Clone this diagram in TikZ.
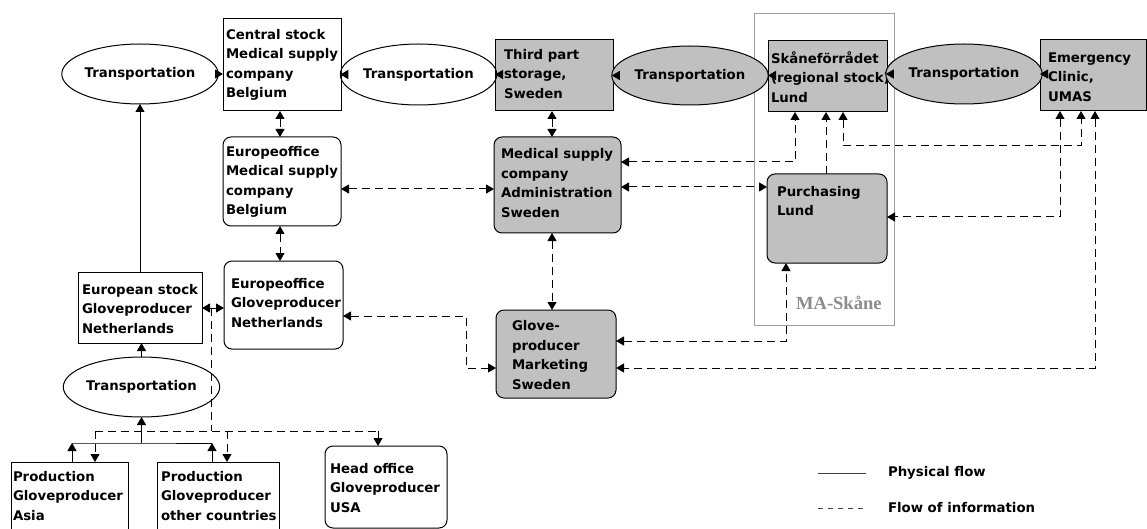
\documentclass[tikz,border=0pt]{standalone}
\usepackage{fontspec}
\setsansfont{DejaVu Sans}
\newfontfamily\maserif{Liberation Serif}
\usetikzlibrary{shapes.geometric,arrows.meta,calc}
\definecolor{boxgrey}{HTML}{C0C0C0}
\definecolor{frgrey}{HTML}{A0A0A0}
\definecolor{labgrey}{HTML}{8C8C8C}
\newcommand\boxfont{\sffamily\bfseries\fontsize{13.3}{19.5}\selectfont}
\tikzset{
  sqbox/.style={draw=black, line width=1pt, inner sep=0pt, outer sep=0pt, anchor=north west},
  rbox/.style={sqbox, rounded corners=8pt},
  filled/.style={fill=boxgrey},
  ell/.style={ellipse, draw=black, line width=1pt, inner sep=0pt, outer sep=0pt, font=\boxfont},
  lab/.style={inner sep=0pt, outer sep=0pt, anchor=west, align=left, font=\boxfont},
  tip/.tip={Triangle[length=8pt,width=9pt]},
  phys/.style={line width=1pt, -tip},
  info/.style={line width=1pt, dash pattern=on 8pt off 5pt, tip-tip},
  infoone/.style={line width=1pt, dash pattern=on 8pt off 5pt, -tip},
  infonone/.style={line width=1pt, dash pattern=on 8pt off 5pt},
}
\begin{document}
\begin{tikzpicture}[x=1pt,y=-1pt]
\clip (0,0) rectangle (1147,529);
\fill[white] (0,0) rectangle (1147,529);

% MA-Skane frame
\node[draw=frgrey, line width=1pt, inner sep=0pt, outer sep=0pt, anchor=north west,
      minimum width=140pt, minimum height=311pt] (ma) at (754,14) {};
\node[inner sep=0pt, anchor=west, text=labgrey, font=\maserif\bfseries\fontsize{18.5}{19}\selectfont] (malab) at (796,303) {MA-Skåne};

% boxes
\node[sqbox, minimum width=118pt, minimum height=92pt] (cs) at (223,19) {};
\node[rbox, minimum width=118pt, minimum height=89pt] (eom) at (223,137) {};
\node[sqbox, filled, minimum width=118pt, minimum height=71pt] (tp) at (495,40) {};
\node[rbox, filled, minimum width=127pt, minimum height=96pt] (adm) at (494,137) {};
\node[sqbox, filled, minimum width=119pt, minimum height=71pt] (sk) at (768,41) {};
\node[sqbox, filled, minimum width=106pt, minimum height=71pt] (em) at (1040,40) {};
\node[rbox, filled, minimum width=120pt, minimum height=89pt] (pu) at (767,174) {};
\node[sqbox, minimum width=124pt, minimum height=71pt] (es) at (78,272) {};
\node[rbox, minimum width=119pt, minimum height=88pt] (eog) at (224,261) {};
\node[rbox, filled, minimum width=120pt, minimum height=88pt] (gm) at (496,310) {};
\node[sqbox, minimum width=117pt, minimum height=90pt] (asia) at (11,462) {};
\node[sqbox, minimum width=122pt, minimum height=90pt] (oth) at (157,462) {};
\node[rbox, minimum width=122pt, minimum height=82pt] (ho) at (325,446) {};

% box texts
\node[lab] (cst) at (226,65) {Central stock\\Medical supply\\company\\Belgium};
\node[lab] (eomt) at (226,182) {Europeoffice\\Medical supply\\company\\Belgium};
\node[lab] (tpt) at (504,74) {Third part\\storage,\\Sweden};
\node[lab] (admt) at (501,183) {Medical supply\\company\\Administration\\Sweden};
\node[lab] (skt) at (771,77) {Skåneförrådet\\(regional stock)\\Lund};
\node[lab] (emt) at (1048,77) {Emergency\\Clinic,\\UMAS};
\node[lab] (put) at (777,201) {Purchasing\\Lund};
\node[lab] (est) at (82,309) {European stock\\Gloveproducer\\Netherlands};
\node[lab] (eogt) at (231,303) {Europeoffice\\Gloveproducer\\Netherlands};
\node[lab] (gmt) at (512,355) {Glove-\\producer\\Marketing\\Sweden};
\node[lab] (asiat) at (13,496) {Production\\Gloveproducer\\Asia};
\node[lab] (otht) at (161,496) {Production\\Gloveproducer\\other countries};
\node[lab] (hot) at (330,488) {Head office\\Gloveproducer\\USA};

% ellipses
\node[ell, minimum width=116pt, minimum height=60pt] (t1) at (140,74) {Transportation};
\node[ell, minimum width=115pt, minimum height=61pt] (t2) at (418.5,74.5) {Transportation};
\node[ell, filled, minimum width=116pt, minimum height=59pt] (t4) at (690,75.5) {Transportation};
\node[ell, filled, minimum width=116pt, minimum height=60pt] (t5) at (964,74) {Transportation};
\node[ell, minimum width=117pt, minimum height=60pt] (t3) at (141.5,387) {Transportation};

% physical flow
\draw[phys] (t1.east) -- (t1.east -| cs.west);
\draw[phys] (cs.east |- t2.west) -- (t2.west);
\draw[phys] (t2.east) -- (t2.east -| tp.west);
\draw[phys] (tp.east |- t4.west) -- (t4.west);
\draw[phys] (t4.east) -- (t4.east -| sk.west);
\draw[phys] (sk.east |- t5.west) -- (t5.west);
\draw[phys] (t5.east) -- (t5.east -| em.west);
\draw[phys] (es.north -| t1.south) -- (t1.south);
\draw[phys] (t3.north) -- (t3.north |- es.south);
\coordinate (jn) at (141.5,443);
\draw[phys] (jn) -- (t3.south);
\draw[line width=1pt] ($(asia.north west)+(61,-19)$) -- (jn) -- ($(oth.north west)+(55,-19)$);
\draw[phys] ($(asia.north west)+(61,0)$) -- ($(asia.north west)+(61,-19)$);
\draw[phys] ($(oth.north west)+(55,0)$) -- ($(oth.north west)+(55,-19)$);

% information flow
\draw[info] ($(cs.south west)+(57,0)$) -- ($(eom.north west)+(57,0)$);
\draw[info] ($(eom.south west)+(57,0)$) -- ($(eog.north west)+(56,0)$);
\draw[info] ($(eom.north east)+(0,52)$) -- ($(adm.north west)+(0,52)$);
\draw[info] ($(tp.south west)+(57,0)$) -- ($(adm.north west)+(58,0)$);
\draw[info] ($(adm.south west)+(58,0)$) -- ($(gm.north west)+(56,0)$);
\draw[info] ($(adm.north east)+(0,25)$) -| ($(sk.south west)+(27,0)$);
\draw[info] ($(adm.north east)+(0,50)$) -- ($(pu.north west)+(0,13)$);
\draw[infoone] ($(pu.north west)+(59,0)$) -- ($(sk.south west)+(58,0)$);
\draw[info] ($(sk.south west)+(75,0)$) -- ($(sk.south west)+(75,34)$) -| ($(em.south west)+(41,0)$);
\draw[info] ($(em.south west)+(20,0)$) |- ($(pu.north east)+(0,43)$);
\draw[info] ($(em.south west)+(55,0)$) |- ($(gm.north east)+(0,58)$);
\draw[info] ($(gm.north east)+(0,31)$) -| ($(pu.south west)+(19,0)$);
\draw[info] ($(eog.north east)+(0,55)$) -- ($(eog.north east)+(123,55)$) |- ($(gm.north west)+(0,58)$);
\draw[info] ($(es.north east)+(0,36)$) -- ($(eog.north west)+(0,47)$);
\draw[infonone] ($(es.north east)+(9,36)$) -- ($(es.north east)+(9,159)$);
\draw[infonone] ($(asia.north west)+(84,-31)$) -- ($(ho.north west)+(53,-15)$);
\draw[infoone] ($(asia.north west)+(84,-31)$) -- ($(asia.north west)+(84,0)$);
\draw[infoone] ($(oth.north west)+(70,-31)$) -- ($(oth.north west)+(70,0)$);
\draw[infoone] ($(ho.north west)+(53,-15)$) -- ($(ho.north west)+(53,0)$);

% legend
\coordinate (l1a) at (818,473);
\coordinate (l1b) at (866,473);
\coordinate (l2a) at (818,508);
\coordinate (l2b) at (866,508);
\draw[line width=1pt, black!75] (l1a) -- (l1b);
\draw[line width=1pt, black!75, dash pattern=on 5pt off 5pt] (l2a) -- (l2b);
\node[lab] (lg1) at (888,473) {Physical flow};
\node[lab] (lg2) at (888,508) {Flow of information};
\end{tikzpicture}
\end{document}
